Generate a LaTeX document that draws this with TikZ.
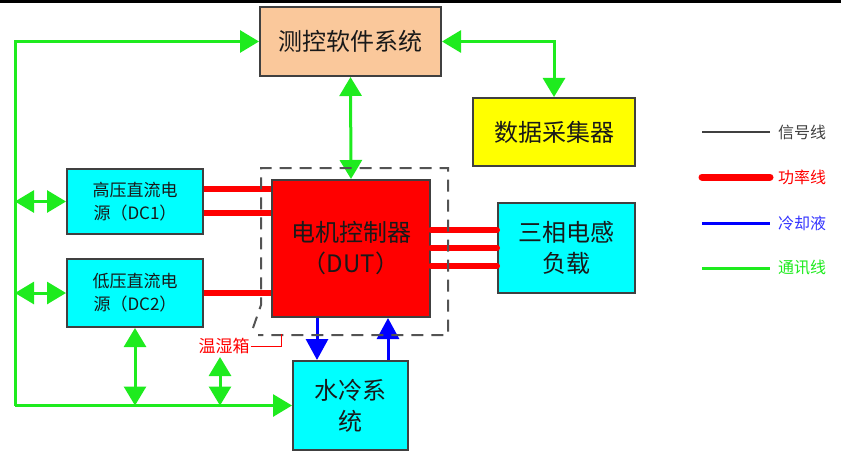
\documentclass[tikz,border=0pt]{standalone}
\usepackage{fontspec}
\setmainfont{Noto Sans CJK SC}
\usepackage{tikz}
\usetikzlibrary{arrows.meta,calc}
\definecolor{softfill}{RGB}{250,200,155}
\definecolor{unitcyan}{RGB}{0,255,255}
\definecolor{unityellow}{RGB}{255,255,0}
\definecolor{unitred}{RGB}{255,0,0}
\definecolor{commgreen}{RGB}{30,235,30}
\definecolor{boxline}{RGB}{64,64,64}
\tikzstyle{unit} = [rectangle, draw=boxline, line width=2pt, text centered, align=center, inner sep=0pt, text=black!90]
\tikzstyle{bigtext} = [font=\fontsize{24}{31}\selectfont]
\tikzstyle{smalltext} = [font=\fontsize{17}{23}\selectfont]
\tikzstyle{comm} = [line width=3pt, draw=commgreen, >={Triangle[length=19pt,width=22pt]}]
\tikzstyle{power} = [line width=6pt, draw=unitred]
\tikzstyle{coolant} = [line width=3pt, draw=blue, >={Triangle[length=21pt,width=22pt]}]
\tikzstyle{chamber} = [line width=2pt, draw=boxline!90, dash pattern=on 12pt off 8pt]
\tikzstyle{keytext} = [anchor=west, inner sep=0pt, font=\fontsize{16}{18}\selectfont]

\begin{document}
\begin{tikzpicture}[x=1pt, y=-1pt]
        \useasboundingbox (0,0) rectangle (841,452);
        \fill[black] (0,0) rectangle (841,3);
        % blocks
        \node (soft) [unit, bigtext, fill=softfill, minimum width=181pt, minimum height=69pt] at (350.5,41.5) {测控软件系统};
        \node (daq) [unit, bigtext, fill=unityellow, minimum width=162pt, minimum height=68pt] at (554,132) {数据采集器};
        \node (dc-1) [unit, smalltext, fill=unitcyan, minimum width=136pt, minimum height=65pt] at (135,201.5) {高压直流电\\源（DC1）};
        \node (dc-2) [unit, smalltext, fill=unitcyan, minimum width=136pt, minimum height=68pt] at (135,293) {低压直流电\\源（DC2）};
        \node (dut) [unit, bigtext, fill=unitred, minimum width=158pt, minimum height=137pt] at (351,248.5) {电机控制器\\（DUT）};
        \node (load) [unit, bigtext, fill=unitcyan, minimum width=137pt, minimum height=90pt] at (566.5,248) {三相电感\\负载};
        \node (cooling) [unit, bigtext, fill=unitcyan, minimum width=115pt, minimum height=89pt] at (350.5,405.5) {水冷系\\统};
        \node (chamber-label) [text=unitred, smalltext, inner sep=1pt] at (224,346) {温湿箱};
        \coordinate (chamber-tag) at (281,334);
        \coordinate (chamber-link) at (220,357);
        \coordinate (bus-bottom) at (15,405.5);
        % communication
        \draw [comm,->] (bus-bottom) |- (soft.west);
        \draw [comm,->] (bus-bottom) -- (bus-bottom -| cooling.west);
        \draw [comm,<->] (dc-1.west -| bus-bottom) -- (dc-1.west);
        \draw [comm,<->] (dc-2.west -| bus-bottom) -- (dc-2.west);
        \draw [comm,<->] (dc-2.south) -- (dc-2.south |- bus-bottom);
        \draw [comm,<->] (chamber-link) -- (chamber-link |- bus-bottom);
        \draw [comm,<->] (soft.south) -- (dut.north);
        \draw [comm,<->] (soft.east) -| (daq.north);
        % power
        \draw [power] ([yshift=12.5pt]dc-1.east) -- ([yshift=12.5pt]dc-1.east -| dut.west);
        \draw [power] ([yshift=-11.5pt]dc-1.east) -- ([yshift=-11.5pt]dc-1.east -| dut.west);
        \draw [power] (dc-2.east) -- (dc-2.east -| dut.west);
        \draw [power, line cap=round] ([yshift=18pt]load.west -| dut.east) -- ([yshift=18pt]load.west);
        \draw [power, line cap=round] (load.west -| dut.east) -- (load.west);
        \draw [power, line cap=round] ([yshift=-18pt]load.west -| dut.east) -- ([yshift=-18pt]load.west);
        % coolant
        \draw [coolant,->] ([xshift=-34pt]dut.south) -- ([xshift=-34pt]dut.south |- cooling.north);
        \draw [coolant,->] ([xshift=37pt]dut.south |- cooling.north) -- ([xshift=37pt]dut.south);
        % chamber
        \draw [chamber] (253,328) -- (261,305) -- (261,168) -- (448,168) -- (448,335) -- (258,335);
        \draw [unitred, line width=1pt] (chamber-label.east) -| (chamber-tag);
        % legend
        \node (key-signal) [keytext, text=boxline] at (778,132) {信号线};
        \node (key-power) [keytext, text=unitred] at (778,177) {功率线};
        \node (key-coolant) [keytext, text=blue!80] at (778,223) {冷却液};
        \node (key-comm) [keytext, text=commgreen] at (778,268) {通讯线};
        \coordinate (key-start-1) at (702,132);
        \coordinate (key-start-2) at (702,177);
        \coordinate (key-start-3) at (702,223);
        \coordinate (key-start-4) at (702,268);
        \draw [boxline, line width=2pt] (key-start-1) -- ([xshift=-8pt]key-signal.west);
        \draw [power, line width=7pt, line cap=round] (key-start-2) -- ([xshift=-8pt]key-power.west);
        \draw [blue, line width=3pt] (key-start-3) -- ([xshift=-8pt]key-coolant.west);
        \draw [commgreen, line width=3pt] (key-start-4) -- ([xshift=-8pt]key-comm.west);
    \end{tikzpicture}
\end{document}
